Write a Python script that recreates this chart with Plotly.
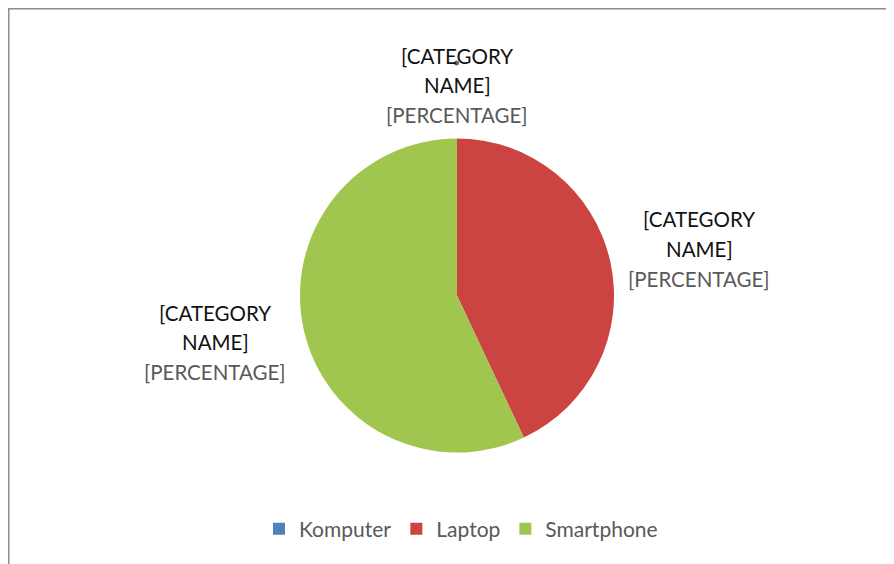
import plotly.graph_objects as go

OFF = 8  # the page body adds an 8px margin before the figure
W, H = 894 - OFF, 564 - OFF

categories = ["Komputer", "Laptop", "Smartphone"]
values = [0, 43, 57]
colors = ["#4F81BD", "#CB4441", "#A0C64F"]
label_lines = ["[CATEGORY", "NAME]", "[PERCENTAGE]"]
label_colors = ["#111111", "#111111", "#595959"]

# label block centres (screen pixels) for each category
label_centers = {"Komputer": (457, 85), "Laptop": (699, 249), "Smartphone": (215, 342)}
line_gap = 29.5

def px(x):
    return (x - OFF) / W

def py(y):
    return 1 - (y - OFF) / H

cx, cy, r = 457, 295.5, 157

fig = go.Figure()
fig.add_trace(go.Pie(
    labels=categories,
    values=values,
    sort=False,
    direction="clockwise",
    rotation=0,
    textinfo="none",
    hoverinfo="label+percent",
    marker=dict(colors=colors, line=dict(width=0)),
    domain=dict(x=[px(cx - r), px(cx + r)], y=[py(cy + r), py(cy - r)]),
    showlegend=True,
))

annotations = []
for cat in categories:
    x0, y0 = label_centers[cat]
    for i, (txt, col) in enumerate(zip(label_lines, label_colors)):
        annotations.append(dict(
            x=px(x0), y=py(y0 + (i - 1) * line_gap), xref="paper", yref="paper",
            text=txt, showarrow=False, xanchor="center", yanchor="middle",
            font=dict(family="Lato, Open Sans, sans-serif", size=20.5, color=col),
        ))

shapes = [
    dict(type="rect", xref="paper", yref="paper",
         x0=px(8.8), x1=1.2, y0=-0.2, y1=py(8.8),
         line=dict(color="#8C8C8C", width=1.5), fillcolor="rgba(0,0,0,0)"),
    dict(type="circle", xref="paper", yref="paper",
         x0=px(454), x1=px(459), y0=py(65.5), y1=py(60.5),
         line=dict(width=0), fillcolor="#666666"),
]

fig.update_layout(
    width=W, height=H,
    margin=dict(l=0, r=0, t=0, b=0),
    paper_bgcolor="white", plot_bgcolor="white",
    annotations=annotations,
    shapes=shapes,
    legend=dict(orientation="h", x=px(461), xanchor="center", y=py(529), yanchor="middle",
                font=dict(family="Lato, Open Sans, sans-serif", size=21, color="#595959"),
                itemwidth=30),
)

fig.write_html("out.html")
